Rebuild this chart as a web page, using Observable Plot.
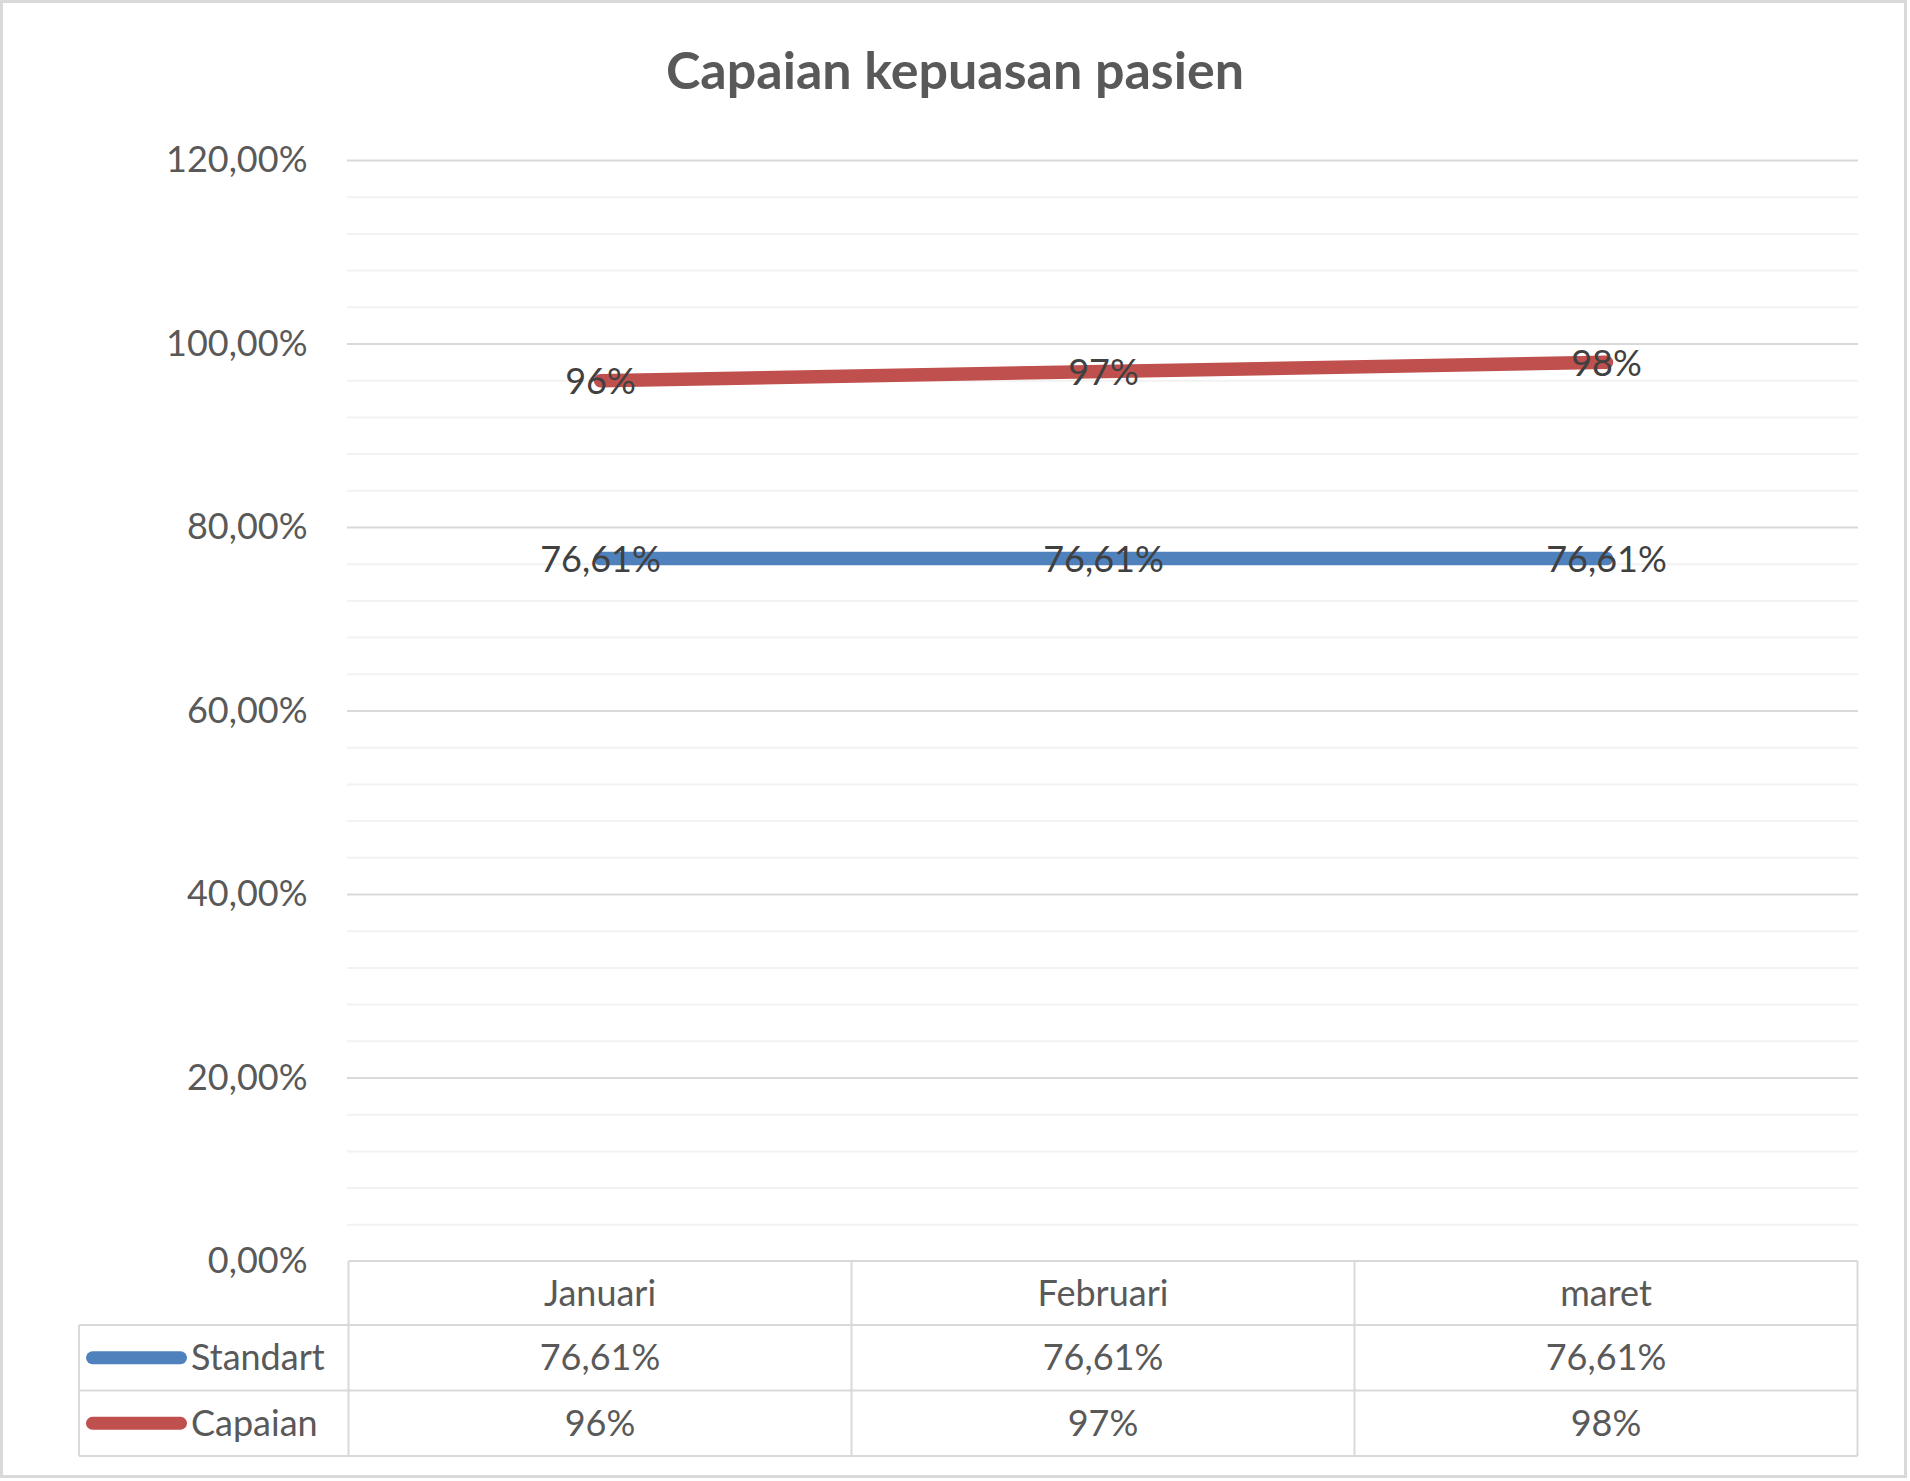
<!DOCTYPE html>
<html>
<head>
<meta charset="utf-8">
<script src="https://cdn.jsdelivr.net/npm/d3@7"></script>
<script src="https://cdn.jsdelivr.net/npm/@observablehq/plot@0.6"></script>
<style>
  body { margin: 0; background: #fff; }
  #chart { position: relative; width: 1910px; height: 1481px; overflow: hidden; font-family: Lato, sans-serif; background: #fff; }
  #title { position: absolute; left: 0; top: 40px; width: 1910px; text-align: center; font-size: 52px; line-height: 58px; font-weight: bold; color: #595959; }
  #border { position: absolute; left: 0; top: 0; width: 1907px; height: 1478px; box-sizing: border-box; border: 3px solid #d9d9d9; pointer-events: none; }
  #chart svg { position: absolute; left: 0; top: 0; }
</style>
</head>
<body>
<div id="chart">
  <div id="title">Capaian kepuasan pasien</div>
  <div id="border"></div>
</div>
<script>
// Months, series values and axis ticks
const months = ["Januari", "Februari", "maret"];
const standart = [0.7661, 0.7661, 0.7661];
const capaian = [0.96, 0.97, 0.98];
const seriesNames = ["Standart", "Capaian"];
const seriesColors = ["#4f81bd", "#c0504d"];
const yMajor = [0, 0.2, 0.4, 0.6, 0.8, 1.0, 1.2];

const fmtAxis = d => (d * 100).toFixed(2).replace(".", ",") + "%";
const fmtStandart = d => (d * 100).toFixed(2).replace(".", ",") + "%";
const fmtCapaian = d => Math.round(d * 100) + "%";

const series = [
  { name: seriesNames[0], values: standart, color: seriesColors[0], fmt: fmtStandart },
  { name: seriesNames[1], values: capaian, color: seriesColors[1], fmt: fmtCapaian }
];

const data = series.flatMap(s => months.map((m, i) => ({
  series: s.name, month: m, value: s.values[i], label: s.fmt(s.values[i])
})));

// Minor gridlines every 4 points, skipping the major ones
const yMinor = d3.range(0, 31).map(i => i * 0.04).filter(v => Math.abs(v * 5 - Math.round(v * 5)) > 1e-6);

const chart = Plot.plot({
  width: 1910,
  height: 1481,
  marginLeft: 347,
  marginRight: 52,
  marginTop: 160,
  marginBottom: 220,
  style: { fontFamily: "Lato, sans-serif", color: "#595959", background: "transparent", overflow: "visible" },
  x: { type: "point", domain: months, padding: 0.5, axis: null },
  y: { domain: [0, 1.2], axis: null },
  color: { domain: seriesNames, range: seriesColors },
  marks: [
    Plot.ruleY(yMinor, { stroke: "#f2f2f2", strokeWidth: 2 }),
    Plot.ruleY(yMajor.filter(d => d > 0), { stroke: "#d9d9d9", strokeWidth: 2 }),
    Plot.axisY(yMajor, { tickFormat: fmtAxis, tickSize: 0, tickPadding: 40, fontSize: 36, label: null }),
    Plot.line(data, { x: "month", y: "value", z: "series", stroke: "series", strokeWidth: 13.5, strokeLinecap: "round" }),
    Plot.text(data, { x: "month", y: "value", text: "label", fill: "#404040", fontSize: 36, dy: 2 })
  ]
});

document.getElementById("chart").insertBefore(chart, document.getElementById("border"));

// Data table under the plot, aligned to the x scale
const xs = chart.scale("x");
const ys = chart.scale("y");
const centers = months.map(m => xs.apply(m));
const step = centers[1] - centers[0];
const edges = [centers[0] - step / 2, ...centers.map(c => c + step / 2)];
const legendLeft = 79;
const rowTop = [ys.apply(0), ys.apply(0) + 64, ys.apply(0) + 129.5, ys.apply(0) + 195];

const svg = d3.select(chart);
const g = svg.append("g").attr("font-family", "Lato, sans-serif").attr("font-size", 36);
const grid = g.append("g").attr("stroke", "#d9d9d9").attr("stroke-width", 2).attr("fill", "none");

grid.append("line").attr("x1", edges[0]).attr("x2", edges[3]).attr("y1", rowTop[0]).attr("y2", rowTop[0]);
for (let r = 1; r < 4; r++) {
  grid.append("line").attr("x1", legendLeft).attr("x2", edges[3]).attr("y1", rowTop[r]).attr("y2", rowTop[r]);
}
grid.append("line").attr("x1", legendLeft).attr("x2", legendLeft).attr("y1", rowTop[1]).attr("y2", rowTop[3]);
edges.forEach(x => grid.append("line").attr("x1", x).attr("x2", x).attr("y1", rowTop[0]).attr("y2", rowTop[3]));

const rowMid = r => (rowTop[r] + rowTop[r + 1]) / 2;

months.forEach((m, i) => {
  g.append("text").attr("x", centers[i]).attr("y", rowMid(0)).attr("text-anchor", "middle")
    .attr("dy", "0.35em").attr("fill", "#595959").text(m);
});

series.forEach((s, r) => {
  const y = rowMid(r + 1);
  g.append("line").attr("x1", legendLeft + 13.5).attr("x2", legendLeft + 101.5).attr("y1", y).attr("y2", y)
    .attr("stroke", s.color).attr("stroke-width", 13).attr("stroke-linecap", "round");
  g.append("text").attr("x", legendLeft + 112).attr("y", y).attr("dy", "0.35em").attr("text-anchor", "start")
    .attr("fill", "#595959").text(s.name);
  s.values.forEach((v, i) => {
    g.append("text").attr("x", centers[i]).attr("y", y).attr("text-anchor", "middle")
      .attr("dy", "0.35em").attr("fill", "#595959").text(s.fmt(v));
  });
});
</script>
</body>
</html>
